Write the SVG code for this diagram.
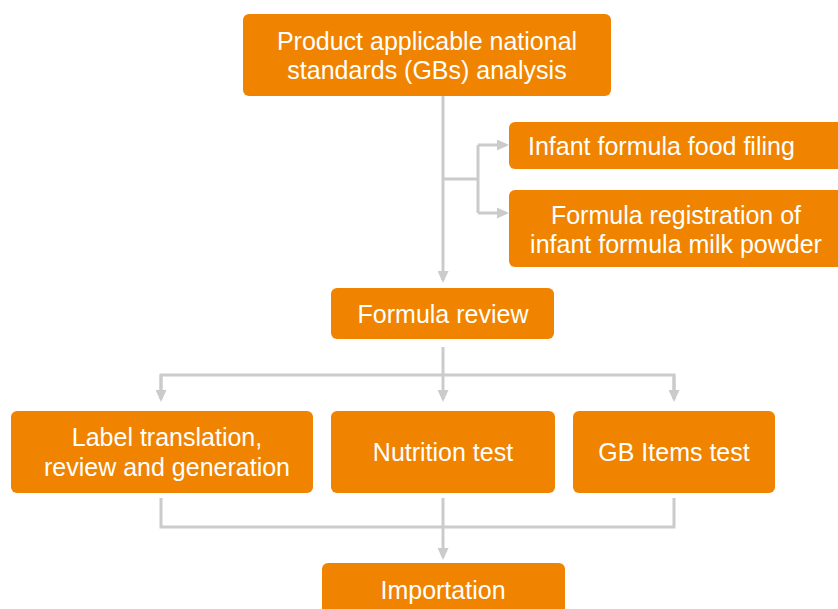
<svg xmlns="http://www.w3.org/2000/svg" width="838" height="609" viewBox="0 0 838 609">
<style>
.box{fill:#F08400;}
.t{font-family:"Liberation Sans",Arial,sans-serif;font-size:25px;fill:#FFFFFF;text-anchor:middle;dominant-baseline:central;}
.c{fill:none;stroke:#CBCBCB;stroke-width:3;}
</style>
<defs>
<marker id="ah" markerWidth="12" markerHeight="11" refX="9" refY="5.5" orient="auto" markerUnits="userSpaceOnUse" viewBox="0 0 12 11">
<path d="M0,0 L12,5.5 L0,11 Z" fill="#CBCBCB"/>
</marker>
</defs>
<rect width="838" height="609" fill="#FFFFFF"/>
<g id="connectors">
<path class="c" d="M443,96 V280" marker-end="url(#ah)"/>
<path class="c" d="M443,179 H478"/>
<path class="c" d="M478,145 V213"/>
<path class="c" d="M478,145 H506" marker-end="url(#ah)"/>
<path class="c" d="M478,213 H506" marker-end="url(#ah)"/>
<path class="c" d="M443,347 V399" marker-end="url(#ah)"/>
<path class="c" d="M161,399 V375 H674 V399"/>
<path class="c" d="M161,375 V399" marker-end="url(#ah)"/>
<path class="c" d="M674,375 V399" marker-end="url(#ah)"/>
<path class="c" d="M161,498 V527 H674 V498"/>
<path class="c" d="M443,498 V557" marker-end="url(#ah)"/>
</g>
<g id="n-gb">
<rect class="box" x="243" y="14" width="368" height="82" rx="6"/>
<text class="t" x="427" y="41">Product applicable national</text>
<text class="t" x="427" y="70">standards (GBs) analysis</text>
</g>
<g id="n-filing">
<rect class="box" x="509" y="122" width="340" height="47" rx="6"/>
<text class="t" x="528" y="146" style="text-anchor:start">Infant formula food filing</text>
</g>
<g id="n-registration">
<rect class="box" x="509" y="190" width="340" height="77" rx="6"/>
<text class="t" x="676" y="215">Formula registration of</text>
<text class="t" x="676" y="244">infant formula milk powder</text>
</g>
<g id="n-review">
<rect class="box" x="331" y="288" width="223" height="51" rx="6"/>
<text class="t" x="443" y="314">Formula review</text>
</g>
<g id="n-label">
<rect class="box" x="11" y="411" width="302" height="82" rx="6"/>
<text class="t" x="167" y="437">Label translation,</text>
<text class="t" x="167" y="467">review and generation</text>
</g>
<g id="n-nutrition">
<rect class="box" x="331" y="411" width="224" height="82" rx="6"/>
<text class="t" x="443" y="452">Nutrition test</text>
</g>
<g id="n-gbitems">
<rect class="box" x="573" y="411" width="202" height="82" rx="6"/>
<text class="t" x="674" y="452">GB Items test</text>
</g>
<g id="n-import">
<rect class="box" x="322" y="563" width="243" height="60" rx="6"/>
<text class="t" x="443" y="590">Importation</text>
</g>
</svg>
